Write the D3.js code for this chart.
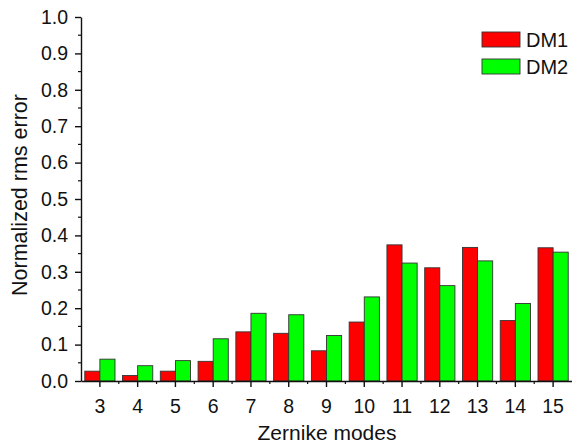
<!doctype html>
<html lang="en">
<head>
<meta charset="utf-8">
<title>Normalized rms error</title>
<style>
html, body { margin: 0; padding: 0; background: #fff; overflow: hidden; }
svg { display: block; font-family: 'Liberation Sans', Arial, sans-serif; }
.axis path, .axis line { stroke: #111; stroke-width: 1.4px; }
.axis text { fill: #111; font-size: 19.5px; }
</style>
</head>
<body>
<div id="chart"></div>
<script src="https://cdnjs.cloudflare.com/ajax/libs/d3/7.8.5/d3.min.js"></script>
<script>
// zernike modes on x
var modes = ['3', '4', '5', '6', '7', '8', '9', '10', '11', '12', '13', '14', '15'];
var seriesNames = ['DM1', 'DM2'];
var dm1 = [0.027, 0.015, 0.027, 0.054, 0.135, 0.131, 0.083, 0.162, 0.374, 0.311, 0.367, 0.166, 0.366];
var dm2 = [0.060, 0.042, 0.056, 0.116, 0.186, 0.182, 0.125, 0.231, 0.324, 0.262, 0.330, 0.213, 0.354];
var yTicks = [0, 0.1, 0.2, 0.3, 0.4, 0.5, 0.6, 0.7, 0.8, 0.9, 1.0];
var colors = ['#ff0000', '#00ff00'];

var W = 572, H = 445;
var m = { top: 17, right: 0, bottom: 64, left: 81 };

var svg = d3.select('#chart').append('svg')
	.attr('width', W)
	.attr('height', H);

var x = d3.scaleBand()
	.domain(modes)
	.range([m.left, W - m.right])
	.paddingInner(0.2)
	.paddingOuter(0.1);

var xSub = d3.scaleBand()
	.domain(seriesNames)
	.range([0, x.bandwidth()]);

var y = d3.scaleLinear()
	.domain([0, 1])
	.range([H - m.bottom, m.top]);

var step = x.step();

// minor ticks first so the axes draw over them
var minorY = d3.range(0.05, 1, 0.1);
svg.append('g').selectAll('line')
	.data(minorY).enter()
	.append('line')
	.attr('x1', m.left - 3).attr('x2', m.left)
	.attr('y1', function (d) { return y(d); })
	.attr('y2', function (d) { return y(d); })
	.attr('stroke', '#111').attr('stroke-width', 1.2);

var minorX = modes.slice(1).map(function (d) { return x(d) - (step - x.bandwidth()) / 2; });
svg.append('g').selectAll('line')
	.data(minorX).enter()
	.append('line')
	.attr('x1', function (d) { return d; })
	.attr('x2', function (d) { return d; })
	.attr('y1', H - m.bottom).attr('y2', H - m.bottom + 3)
	.attr('stroke', '#111').attr('stroke-width', 1.2);

// bars
var rows = modes.map(function (d, i) {
	return { mode: d, vals: [dm1[i], dm2[i]] };
});

var groups = svg.append('g').selectAll('g')
	.data(rows).enter()
	.append('g')
	.attr('transform', function (d) { return 'translate(' + x(d.mode) + ',0)'; });

groups.selectAll('rect')
	.data(function (d) { return d.vals.map(function (v, j) { return { s: seriesNames[j], v: v, j: j }; }); })
	.enter()
	.append('rect')
	.attr('x', function (d) { return xSub(d.s); })
	.attr('width', xSub.bandwidth())
	.attr('y', function (d) { return y(d.v); })
	.attr('height', function (d) { return y(0) - y(d.v); })
	.attr('fill', function (d) { return colors[d.j]; })
	.attr('stroke', '#333')
	.attr('stroke-width', 0.9);

// axes
svg.append('g')
	.attr('class', 'axis')
	.attr('transform', 'translate(' + m.left + ',0)')
	.call(d3.axisLeft(y).tickValues(yTicks).tickFormat(d3.format('.1f')).tickSize(6).tickSizeOuter(0).tickPadding(7));

svg.append('g')
	.attr('class', 'axis')
	.attr('transform', 'translate(0,' + (H - m.bottom) + ')')
	.call(d3.axisBottom(x).tickSize(6).tickSizeOuter(0).tickPadding(12));

// axis titles
svg.append('text')
	.attr('x', 327)
	.attr('y', 440)
	.attr('text-anchor', 'middle')
	.attr('font-size', 21)
	.attr('fill', '#111')
	.text('Zernike modes');

svg.append('text')
	.attr('transform', 'translate(27,195) rotate(-90)')
	.attr('text-anchor', 'middle')
	.attr('font-size', 21.5)
	.attr('fill', '#111')
	.text('Normalized rms error');

// legend
var lg = svg.append('g').attr('transform', 'translate(482,32)');
var item = lg.selectAll('g')
	.data(seriesNames).enter()
	.append('g')
	.attr('transform', function (d, i) { return 'translate(0,' + (i * 27) + ')'; });
item.append('rect')
	.attr('width', 38).attr('height', 15)
	.attr('fill', function (d, i) { return colors[i]; })
	.attr('stroke', '#333').attr('stroke-width', 0.9);
item.append('text')
	.attr('x', 44).attr('y', 15)
	.attr('font-size', 20)
	.attr('fill', '#111')
	.text(function (d) { return d; });
</script>
</body>
</html>
